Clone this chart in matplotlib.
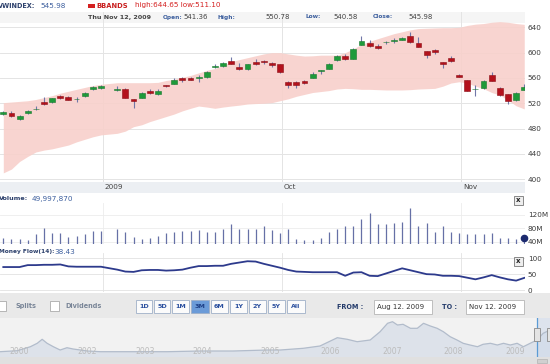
import matplotlib
matplotlib.use('Agg')
import matplotlib.pyplot as plt
from matplotlib.patches import Rectangle
import matplotlib.transforms as mtrans

W, H = 550, 364

# ------------------------------------------------------------------ data
day_slot = list(range(0, 13)) + list(range(14, 65))
opens = [503, 504.6, 495.6, 504, 510.8, 522, 522, 531.4, 529.9, 526.8, 532, 542, 544,
         541.3, 542, 526.7, 528.8, 539.3, 534.6, 548.4, 550.9, 559.3, 560.4, 559.3, 560.9,
         578.2, 578.3, 587.3, 576.7, 573.6, 585.1, 586.5, 583, 581.5, 553, 553, 554.6,
         560.4, 570.4, 574.6, 588.3, 594.1, 590.4, 612, 615.7, 609.9, 616.2, 618.8, 619.9,
         626.8, 615.7, 602.5, 603.6, 584.6, 590.9, 565.1, 556.2, 542.3, 543.5, 564.6,
         543.5, 534.1, 525.6, 541.36]
closes = [506, 499.8, 499.3, 507.7, 511.3, 518.3, 527.7, 528.3, 525.6, 527.2, 535.7, 546.2, 547.8,
          541.9, 528.3, 523, 536.7, 535.7, 539.9, 546.8, 556.7, 556.7, 557.2, 561.4, 569.9,
          578.6, 583, 582, 574.6, 582, 582, 586, 580.4, 568.8, 548.3, 548.3, 552,
          566.2, 572.5, 582, 594.6, 589.4, 605.7, 618.3, 609.9, 606.7, 617.3, 620, 623.6,
          616.2, 609.4, 596.7, 600.4, 581.5, 587.3, 561.4, 539.3, 542.7, 555.1, 555.1,
          533, 524.1, 536.7, 545.98]
highs = [508, 507.2, 500.9, 508.8, 515.6, 530.4, 528.8, 532.5, 532, 529.3, 537.2, 547.2, 549.3,
         547.8, 543.5, 526.7, 537.8, 542, 542, 549, 559.3, 562, 562, 564.6, 571,
         581.5, 585.7, 593.6, 583, 582.5, 589.9, 588.3, 585.7, 582, 555.1, 555.7, 556.7,
         568.8, 572.5, 583, 596.2, 597.8, 606.7, 626.2, 619.9, 613, 618.3, 622.5, 624.6,
         633.1, 624.1, 603.1, 605.2, 585.7, 594.1, 565.7, 556.7, 548.8, 556.7, 568.8,
         546.2, 535.1, 537.8, 550.78]
lows = [501.5, 498.8, 494, 502.5, 509.8, 518, 521, 527.2, 524.6, 522, 530.4, 541, 543,
        539.3, 527.8, 512, 527.7, 534.6, 533.5, 546.3, 549.9, 553, 556.2, 553, 560.4,
        576.2, 577.2, 581.5, 572.5, 573, 581, 581.5, 577.7, 568.3, 544.6, 543.5, 550.4,
        559.3, 565.7, 574.1, 587.3, 588.8, 589.9, 611.5, 608.8, 605.7, 614.1, 615.2, 619.4,
        615.7, 608.8, 591, 597.3, 575.1, 584.6, 560.9, 538.8, 532, 542.5, 554.6,
        532, 519.3, 523.5, 540.58]
bb_upper = [521, 522, 523, 524, 526, 529, 532, 536, 539, 542, 545, 548, 550,
            552.5, 552.5, 552.5, 552.5, 552.5, 553, 556, 558, 561, 564, 568, 572,
            575, 580, 585.7, 589, 592, 595, 598, 600, 600, 598, 596, 594.6,
            595, 596, 596, 596, 600, 606, 613, 618, 622, 626, 630, 633,
            636, 638, 638.5, 639, 639.4, 639.4, 640, 643, 645, 646, 648,
            649, 648, 646, 644.65]
bb_lower = [410, 416, 428, 436, 443, 446, 448, 451, 454, 459, 463, 467, 470,
            472.5, 476, 483, 486, 491, 495, 499, 503, 508, 512, 515.6, 514,
            512, 514, 515.6, 517, 518.8, 519.5, 520, 521, 524, 527, 531, 534,
            537, 538.5, 540, 542.5, 543.5, 543, 542, 542, 541.5, 541, 541, 541,
            541.5, 542.5, 543, 543.5, 547, 552, 554, 552, 547, 543, 537,
            533, 525, 516, 511.1]
volume_m = [52, 47, 47, 45, 62, 80, 67, 65, 55, 58, 63, 73, 73,
            78, 70, 55, 48, 52, 58, 66, 70, 72, 72, 76, 68,
            70, 77, 92, 77, 77, 77, 87, 75, 67, 77, 47, 45,
            45, 52, 70, 77, 86, 86, 107, 126, 92, 93, 96, 99,
            139, 87, 96, 70, 87, 70, 65, 63, 63, 63, 65,
            52, 52, 47, 50.0]
money_flow = [72, 72, 72, 78, 78, 79, 79, 80, 74, 73, 73, 73, 73,
              64, 58, 57, 62, 63, 63, 61, 62, 64, 70, 75, 75,
              76, 76, 82, 86, 90, 89, 82, 76, 70, 63, 58, 57,
              56, 56, 56, 56, 45, 55, 56, 45, 44, 52, 60, 68,
              62, 56, 50, 49, 45, 45, 44, 39, 34, 40, 47,
              40, 34, 30, 38.43]
month_labels = ['2009', 'Oct', 'Nov']
month_first_slot = [12, 34, 56]
price_ticks = [400, 440, 480, 520, 560, 600, 640]
volume_ticks = [40, 80, 120]
volume_tick_labels = ['40M', '80M', '120M']
mf_ticks = [0, 50, 100]
range_buttons = ['1D', '5D', '1M', '3M', '6M', '1Y', '2Y', '5Y', 'All']
active_button = '3M'
nav_year = [2000.69, 2000.97, 2001.18, 2001.29, 2001.37, 2001.45, 2001.55, 2001.66, 2001.77,
            2001.87, 2002.10, 2002.31, 2002.84, 2003.39, 2003.92, 2004.45, 2005.00, 2005.21,
            2005.58, 2005.85, 2006.13, 2006.29, 2006.45, 2006.66, 2006.82, 2006.94, 2007.02,
            2007.10, 2007.19, 2007.31, 2007.42, 2007.52, 2007.63, 2007.74, 2007.84, 2007.95,
            2008.06, 2008.16, 2008.27, 2008.39, 2008.48, 2008.60, 2008.71, 2008.81, 2008.92,
            2009.03, 2009.13, 2009.24, 2009.35, 2009.45, 2009.56]
nav_level = [5.3, 6.3, 10.3, 13.7, 17.7, 13.7, 10.3, 7.0, 9.3,
             8.0, 6.0, 5.3, 5.3, 5.3, 6.0, 6.0, 7.0, 7.0,
             8.7, 11.0, 19.3, 17.7, 15.3, 17.0, 25.3, 33.7, 35.3,
             32.0, 32.7, 28.7, 28.7, 33.7, 31.0, 28.7, 25.3, 20.3,
             17.0, 13.7, 12.0, 10.3, 12.7, 13.7, 12.0, 13.7, 12.0,
             13.7, 10.3, 13.7, 17.0, 23.7, 27.0]
nav_labels = ['2000', '2002', '2003', '2004', '2005', '2006', '2007', '2008', '2009']
nav_label_year = [2001.0, 2002.1, 2003.03, 2003.95, 2005.05, 2006.02, 2007.02, 2008.0, 2009.0]
nav_window_start = 2009.35

# ------------------------------------------------------------------ styling
plt.rcParams['font.family'] = ['DejaVu Sans']
NAVY = '#2b3f6b'
BLUE = '#3d5f9e'
GRAY_TXT = '#3a3a3a'
GRID = '#e4e4e4'
UP = '#1e9a3a'
UP_EDGE = '#17782d'
DOWN = '#b3111c'
DOWN_EDGE = '#8c0c14'
WICK = '#7077a8'
BAND = '#f8d0cb'

fig = plt.figure(figsize=(W / 100, H / 100), dpi=100)
fig.patch.set_facecolor('white')


def frect(x0, y0, x1, y1):
    return [x0 / W, 1 - y1 / H, (x1 - x0) / W, (y1 - y0) / H]


# background UI layer in pixel coordinates
ui = fig.add_axes([0, 0, 1, 1], zorder=-5)
ui.set_xlim(0, W)
ui.set_ylim(H, 0)
ui.axis('off')
ui.add_patch(Rectangle((0, 182), 525, 11, color='#eceff3', lw=0))
ui.add_patch(Rectangle((0, 293), W, 25, color='#e9e9e9', lw=0))
ui.add_patch(Rectangle((0, 357), W, 7, color='#e0e0e0', lw=0))

XLIM = (-0.405, 64.09)
grid_x = [s + 0.22 for s in month_first_slot]

# ------------------------------------------------------------------ price panel
ax = fig.add_axes(frect(0, 12, 525, 182))
ax.set_xlim(*XLIM)
ax.set_ylim(395.6, 664.2)
for s in ax.spines.values():
    s.set_visible(False)
ax.add_patch(Rectangle((0, 1 - 11 / 170), 1, 11 / 170, transform=ax.transAxes,
                       color='#f5f5f5', lw=0, zorder=0))
ax.set_yticks(price_ticks)
ax.yaxis.tick_right()
ax.tick_params(axis='y', length=0, pad=2, labelsize=5.2, labelcolor=GRAY_TXT)
ax.set_xticks(grid_x)
ax.set_xticklabels(month_labels)
ax.tick_params(axis='x', length=0, pad=1.6, labelsize=5.2, labelcolor='#444444')
off = mtrans.ScaledTranslation(2 / 100, 0, fig.dpi_scale_trans)
for lab in ax.get_xticklabels():
    lab.set_ha('left')
    lab.set_transform(lab.get_transform() + off)
ax.grid(True, color=GRID, lw=0.7, zorder=0.5)
ax.set_axisbelow(True)
ax.fill_between(day_slot, bb_lower, bb_upper, color=BAND, lw=0, zorder=1, alpha=0.9)
for x, o, c, h, l in zip(day_slot, opens, closes, highs, lows):
    ax.vlines(x, l, h, color=WICK, lw=0.8, zorder=2)
    up = c >= o
    body = abs(c - o)
    bottom = min(o, c)
    if body < 1.0:
        bottom = (o + c) / 2 - 0.5
        body = 1.0
    ax.add_patch(Rectangle((x - 0.36, bottom), 0.72, body,
                           facecolor=UP if up else DOWN,
                           edgecolor=UP_EDGE if up else DOWN_EDGE, lw=0.4, zorder=3))

# ------------------------------------------------------------------ volume panel
axv = fig.add_axes(frect(0, 203, 525, 244))
axv.set_xlim(*XLIM)
vbase = 33.2
axv.set_ylim(vbase, 154.7)
for s in axv.spines.values():
    s.set_visible(False)
axv.set_xticks(grid_x)
axv.set_xticklabels([])
axv.set_yticks(volume_ticks)
axv.set_yticklabels(volume_tick_labels)
axv.yaxis.tick_right()
axv.tick_params(axis='both', length=0, pad=2, labelsize=5.2, labelcolor=GRAY_TXT)
axv.grid(True, color='#ececec', lw=0.6)
axv.set_axisbelow(True)
axv.vlines(day_slot, vbase, volume_m, color='#6670a6', lw=0.9)
axv.scatter([day_slot[-1]], [volume_m[-1]], s=20, color='#1c2a6e', zorder=5, clip_on=False)

# ------------------------------------------------------------------ money flow panel
axm = fig.add_axes(frect(0, 253, 525, 291.5))
axm.set_xlim(*XLIM)
axm.set_ylim(-3.7, 115.5)
for s in axm.spines.values():
    s.set_visible(False)
axm.set_xticks(grid_x)
axm.set_xticklabels([])
axm.set_yticks(mf_ticks)
axm.yaxis.tick_right()
axm.tick_params(axis='both', length=0, pad=2, labelsize=5.2, labelcolor=GRAY_TXT)
axm.grid(True, color='#e2e2e2', lw=0.6)
axm.set_axisbelow(True)
axm.plot(day_slot, money_flow, color='#2d3a8c', lw=1.3, solid_joinstyle='round')

# ------------------------------------------------------------------ navigator
axn = fig.add_axes(frect(0, 318, 550, 357))
axn.set_xlim(2000.69, 2009.56)
axn.set_ylim(0, 39)
axn.set_facecolor('#f2f2f2')
for s in axn.spines.values():
    s.set_visible(False)
axn.set_xticks([])
axn.set_yticks([])
axn.fill_between(nav_year, 0, nav_level, color='#dde2ea', lw=0)
axn.plot(nav_year, nav_level, color='#b2bccb', lw=0.9)
for lab, yr in zip(nav_labels, nav_label_year):
    axn.text(yr, 5.3, lab, ha='center', va='center', fontsize=5.6, color='#bcbcbc')
axn.axvspan(nav_window_start, 2009.56, color='#cfdaea', alpha=0.6, lw=0)
axn.axvline(nav_window_start, color='#5b9bd5', lw=0.9)

# ------------------------------------------------------------------ overlay layer
top = fig.add_axes([0, 0, 1, 1], zorder=10)
top.set_xlim(0, W)
top.set_ylim(H, 0)
top.axis('off')
top.patch.set_alpha(0)


def t(x, y, s, **kw):
    kw.setdefault('fontsize', 5)
    kw.setdefault('va', 'center')
    kw.setdefault('ha', 'left')
    top.text(x, y, s, **kw)


# header row 1
t(-2, 5.5, 'VWINDEX:', fontweight='bold', color=NAVY, fontsize=4.7)
t(40, 5.5, '545.98', color=BLUE, fontsize=5.2)
top.add_patch(Rectangle((88, 3.5), 6.5, 4, color='#d42020', lw=0))
t(96, 5.5, 'BBANDS', fontweight='bold', color='#c81e1e', fontsize=4.9)
t(135, 5.5, 'high:644.65 low:511.10', color='#d42020', fontsize=5.2)

# header row 2
t(88, 17, 'Thu Nov 12, 2009', fontweight='bold', color='#444444', fontsize=4.6)
t(163, 17, 'Open:', fontweight='bold', color=BLUE, fontsize=4.2)
t(183, 17, '541.36', color='#444444', fontsize=5)
t(218, 17, 'High:', fontweight='bold', color=BLUE, fontsize=4.2)
t(265, 17, '550.78', color='#444444', fontsize=5)
t(305, 17, 'Low:', fontweight='bold', color=BLUE, fontsize=4.2)
t(333, 17, '540.58', color='#444444', fontsize=5)
t(373, 17, 'Close:', fontweight='bold', color=BLUE, fontsize=4.2)
t(408, 17, '545.98', color='#444444', fontsize=5)

# panel headers
t(-1, 198.5, 'Volume:', fontweight='bold', color=NAVY, fontsize=4.6)
t(32, 198.5, '49,997,870', color=BLUE, fontsize=5.2)
t(-1, 251.5, 'Money Flow(14):', fontweight='bold', color=NAVY, fontsize=4.2)
t(54, 251.5, '38.43', color=BLUE, fontsize=5.2)


def close_box(x, y):
    top.add_patch(Rectangle((x, y), 9, 8.5, facecolor='#eeeeee', edgecolor='#777777', lw=0.6))
    top.text(x + 4.5, y + 4.2, 'x', ha='center', va='center', fontsize=5,
             fontweight='bold', color='#222222')


close_box(514, 196)
close_box(514, 257)

# controls bar
top.add_patch(Rectangle((-3, 300.5), 9, 10, facecolor='white', edgecolor='#aaaaaa', lw=0.6))
t(15, 306, 'Splits', fontweight='bold', color='#7a8698', fontsize=4.7)
top.add_patch(Rectangle((50, 300.5), 9, 10, facecolor='white', edgecolor='#aaaaaa', lw=0.6))
t(65, 306, 'Dividends', fontweight='bold', color='#7a8698', fontsize=4.7)

btn_x0 = 136
btn_w = [16, 16, 17, 18, 17, 17, 17, 17, 18]
x = btn_x0
for lab, w in zip(range_buttons, btn_w):
    active = lab == active_button
    top.add_patch(Rectangle((x, 300), w, 13, facecolor='#6b9bd8' if active else '#fbfbfb',
                            edgecolor='#9fb0c8', lw=0.6))
    top.text(x + w / 2, 306.7, lab, ha='center', va='center', fontsize=4.6,
             fontweight='bold', color='#1d3f86' if active else '#2a4f9e')
    x += w + 2

t(337, 306.7, 'FROM :', fontweight='bold', color='#233a6a', fontsize=4.7)
top.add_patch(Rectangle((374, 300), 58, 14, facecolor='white', edgecolor='#b5b5b5', lw=0.6))
t(377, 307, 'Aug 12. 2009', color='#333333', fontsize=5)
t(442, 306.7, 'TO :', fontweight='bold', color='#233a6a', fontsize=4.7)
top.add_patch(Rectangle((466, 300), 58, 14, facecolor='white', edgecolor='#b5b5b5', lw=0.6))
t(469, 307, 'Nov 12. 2009', color='#333333', fontsize=5)

# navigator handles
top.add_patch(Rectangle((534, 328), 6, 13, facecolor='#e4e4e4', edgecolor='#8a8a8a', lw=0.6))
top.add_patch(Rectangle((547, 328), 6, 13, facecolor='#e4e4e4', edgecolor='#8a8a8a', lw=0.6))
top.add_patch(Rectangle((537, 358.5), 10, 4, facecolor='#d0d0d0', edgecolor='#aaaaaa', lw=0.4))

fig.savefig('out.png', dpi=100)
